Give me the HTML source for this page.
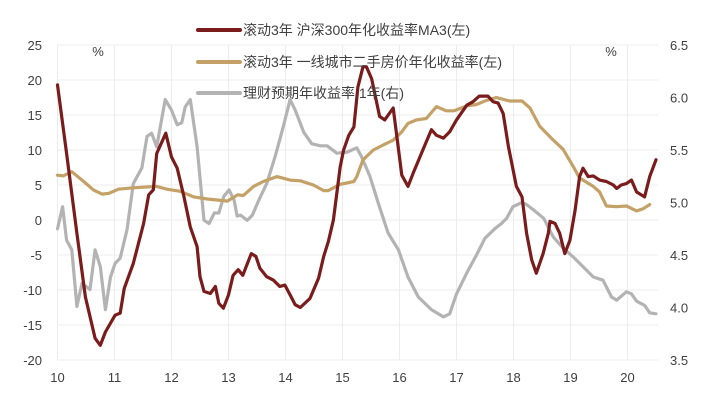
<!DOCTYPE html>
<html><head><meta charset="utf-8"><style>
body{margin:0;background:#fff;}
svg{display:block;font-family:"Liberation Sans","Noto Sans CJK SC",sans-serif;}
</style></head><body>
<svg id="chart" width="717" height="404" viewBox="0 0 717 404" xmlns="http://www.w3.org/2000/svg">
<g id="grid"></g>
<g id="axes"></g>
<g id="series"></g>
<text x="98" y="56" font-size="13" fill="#404040" text-anchor="middle">%</text>
<text x="611" y="56" font-size="13" fill="#404040" text-anchor="middle">%</text>
<g>
<g><line x1="198" y1="30" x2="240" y2="30" stroke="#7b1c1c" stroke-width="4" stroke-linecap="round"/><text x="243" y="35" font-size="14" fill="#404040">滚动3年 沪深300年化收益率MA3(左)</text></g>
<g><line x1="198" y1="62" x2="240" y2="62" stroke="#c4a267" stroke-width="4" stroke-linecap="round"/><text x="243" y="67" font-size="14" fill="#404040">滚动3年 一线城市二手房价年化收益率(左)</text></g>
<g><line x1="198" y1="93" x2="240" y2="93" stroke="#b3b3b3" stroke-width="4" stroke-linecap="round"/><text x="243" y="98" font-size="14" fill="#404040">理财预期年收益率:1年(右)</text></g>
</g>
</svg>
<script>
const leftTicks=[25,20,15,10,5,0,-5,-10,-15,-20];
const rightTicks=["6.5","6.0","5.5","5.0","4.5","4.0","3.5"];
const xTicks=[10,11,12,13,14,15,16,17,18,19,20];
const redT=[10.0,10.16,10.34,10.49,10.66,10.75,10.84,11.01,11.1,11.17,11.33,11.51,11.6,11.68,11.74,11.9,12.0,12.1,12.22,12.33,12.45,12.5,12.57,12.68,12.77,12.83,12.91,13.0,13.08,13.17,13.25,13.4,13.48,13.55,13.67,13.79,13.9,13.99,14.08,14.17,14.26,14.43,14.58,14.67,14.75,14.84,14.96,15.02,15.11,15.2,15.27,15.36,15.42,15.51,15.65,15.74,15.89,16.04,16.15,16.24,16.42,16.56,16.65,16.77,16.88,17.0,17.18,17.29,17.4,17.55,17.64,17.73,17.82,17.91,18.05,18.15,18.23,18.32,18.4,18.52,18.61,18.64,18.73,18.81,18.9,18.99,19.08,19.16,19.22,19.31,19.4,19.51,19.63,19.75,19.81,19.89,19.98,20.07,20.16,20.3,20.39,20.5];
const redV=[19.3,9.5,-1.9,-11,-16.9,-17.9,-16,-13.6,-13.3,-9.8,-6.2,-0.5,3.6,4.3,9.5,12.4,9,7.4,3.3,-1,-3.8,-8.1,-10.2,-10.5,-9.5,-11.9,-12.6,-10.7,-7.9,-7.1,-7.9,-4.8,-5.2,-6.9,-8.1,-8.6,-9.5,-9.3,-10.7,-12.1,-12.5,-11.2,-8.3,-5.2,-3.1,0,7.6,10,12.1,13.3,19,21.9,21.9,20.2,14.8,14.3,16,6.4,4.8,6.7,10.2,12.9,12.1,11.7,12.6,14.3,16.4,16.9,17.7,17.7,16.9,16.7,15.2,10.5,4.8,3.3,-1.9,-5.7,-7.6,-4.8,-1.9,-0.2,-0.5,-1.9,-4.8,-2.9,1.4,6.2,7.4,6.2,6.3,5.7,5.5,5,4.5,5,5.2,5.7,4,3.3,6.2,8.6];
const tanT=[10,10.1,10.25,10.46,10.63,10.78,10.9,11.07,11.33,11.74,11.92,12.15,12.39,12.63,12.98,13.16,13.26,13.44,13.61,13.85,14.08,14.26,14.49,14.67,14.75,14.96,15.2,15.25,15.36,15.54,15.71,15.89,16.04,16.15,16.3,16.47,16.65,16.82,16.96,17.18,17.35,17.53,17.7,17.93,18.15,18.29,18.46,18.7,18.87,19.05,19.16,19.4,19.51,19.63,19.81,19.98,20.16,20.27,20.39];
const tanV=[6.4,6.3,6.9,5.5,4.3,3.7,3.8,4.4,4.6,4.8,4.4,4.1,3.3,3,2.7,3.6,3.5,4.8,5.5,6.2,5.7,5.6,5,4.2,4.2,5.1,5.5,6.2,8.6,10,10.7,11.4,12.6,13.8,14.3,14.5,16.2,15.6,15.6,16.3,16.5,17.1,17.5,17,17,16,13.4,11.4,10.1,7.6,6,4.8,4,2,1.9,2,1.3,1.6,2.2];
const grayT=[10,10.09,10.16,10.25,10.34,10.43,10.57,10.66,10.75,10.84,10.93,11.01,11.1,11.22,11.33,11.48,11.57,11.65,11.74,11.89,12.0,12.1,12.18,12.24,12.33,12.45,12.57,12.66,12.75,12.83,12.92,13.01,13.1,13.15,13.21,13.33,13.42,13.53,13.67,13.82,13.96,14.08,14.17,14.32,14.46,14.61,14.73,14.9,15.08,15.25,15.33,15.48,15.63,15.8,15.98,16.15,16.33,16.56,16.77,16.88,17.0,17.18,17.35,17.5,17.67,17.79,17.88,17.99,18.15,18.23,18.35,18.53,18.7,18.88,19.05,19.22,19.4,19.57,19.72,19.81,19.98,20.07,20.16,20.3,20.39,20.5];
const grayV=[4.75,4.96,4.64,4.55,4.01,4.23,4.17,4.55,4.39,3.98,4.29,4.42,4.47,4.74,5.18,5.33,5.63,5.66,5.53,5.98,5.88,5.74,5.76,5.91,5.98,5.53,4.83,4.8,4.9,4.9,5.06,5.12,5.02,4.87,4.88,4.83,4.88,5.02,5.18,5.44,5.72,5.98,5.88,5.67,5.56,5.54,5.54,5.47,5.48,5.52,5.44,5.25,4.99,4.71,4.55,4.29,4.1,3.98,3.91,3.94,4.13,4.33,4.5,4.66,4.75,4.8,4.85,4.96,5,4.98,4.93,4.85,4.67,4.56,4.48,4.39,4.29,4.26,4.1,4.07,4.15,4.13,4.06,4.02,3.95,3.94];

const X0=57.5, PX_YR=57, TOP=45, BOT=360, RIGHT=658;
const xS=t=>X0+(t-10)*PX_YR;
const yL=v=>TOP+(25-v)*(BOT-TOP)/45;
const yR=v=>TOP+(6.5-v)*(BOT-TOP)/3;
const NS="http://www.w3.org/2000/svg";
const grid=document.getElementById('grid'),axes=document.getElementById('axes'),ser=document.getElementById('series');
function mk(tag,attrs,parent){const e=document.createElementNS(NS,tag);for(const k in attrs)e.setAttribute(k,attrs[k]);parent.appendChild(e);return e;}
leftTicks.forEach(v=>{
  const l=mk('line',{x1:X0,x2:RIGHT,y1:yL(v),y2:yL(v),stroke:'#ececec','stroke-width':1},grid);
  
  
  const t=mk('text',{x:42,y:yL(v)+5,'font-size':13,fill:'#404040','text-anchor':'end'},axes);
  t.textContent=v;
  
  
});
rightTicks.forEach(s=>{
  const t=mk('text',{x:670,y:yR(parseFloat(s))+5,'font-size':13,fill:'#404040'},axes);
  t.textContent=s;
  
  
});
xTicks.forEach(v=>{
  const l=mk('line',{x1:xS(v),x2:xS(v),y1:TOP,y2:BOT,stroke:'#ececec','stroke-width':1},grid);
  
  
  const t=mk('text',{x:xS(v),y:382,'font-size':13,fill:'#404040','text-anchor':'middle'},axes);
  t.textContent=v;
  
  
});
function line(T,V,ys,color,name){
  const d=T.map((t,i)=>(i?'L':'M')+xS(t).toFixed(1)+','+ys(V[i]).toFixed(1)).join(' ');
  const p=mk('path',{d:d,fill:'none',stroke:color,'stroke-width':3.2,'stroke-linejoin':'round','stroke-linecap':'round'},ser);
  
  
}
line(grayT,grayV,yR,'#b3b3b3','wealth-yield-line');
line(tanT,tanV,yL,'#c4a267','housing-return-line');
line(redT,redV,yL,'#7b1c1c','csi300-return-line');
</script>
</body></html>
